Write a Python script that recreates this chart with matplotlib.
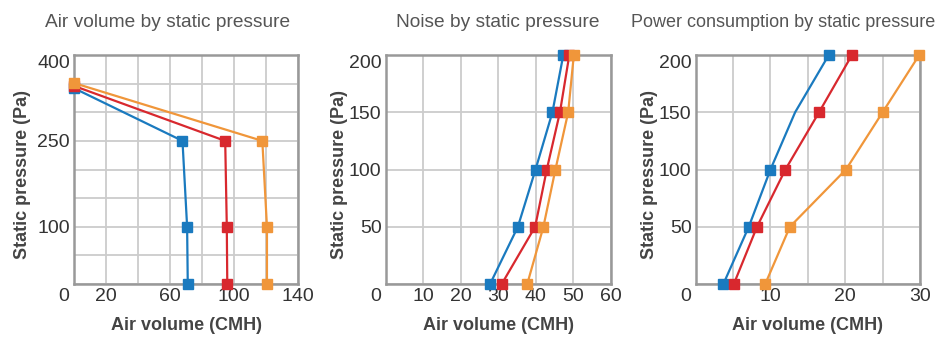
import matplotlib
matplotlib.use("Agg")
import matplotlib.pyplot as plt
from matplotlib.ticker import FixedLocator, FixedFormatter

plt.rcParams['font.family'] = ['Liberation Sans', 'DejaVu Sans']

colors = ['#1a7abf', '#d8282e', '#f0963a']

# Chart 1: Air volume by static pressure
air_pressure_blue = [0, 100, 250, 342]
air_pressure_red = [0, 100, 250, 346]
air_pressure_orange = [0, 100, 250, 351]
air_blue = [71.1, 70.7, 67.8, 0]
air_red = [95.8, 95.5, 94.5, 0]
air_orange = [120.6, 120.6, 117.7, 0]

# Chart 2: Noise by static pressure
pressure = [0, 50, 100, 150, 200]
noise_blue = [27.8, 35.2, 39.9, 44.4, 47.3]
noise_red = [30.9, 39.8, 42.9, 46.4, 48.9]
noise_orange = [37.7, 42.0, 45.2, 48.6, 50.1]

# Chart 3: Power consumption by static pressure
power_blue = [3.7, 7.1, 10.0, 13.3, 17.8]
power_red = [5.1, 8.2, 12.0, 16.5, 20.9]
power_orange = [9.3, 12.6, 20.1, 25.0, 29.9]

titles = ['Air volume by static pressure', 'Noise by static pressure',
          'Power consumption by static pressure']
xlabel = 'Air volume (CMH)'
ylabel = 'Static pressure (Pa)'

W, H = 938, 338
fig = plt.figure(figsize=(W / 100, H / 100), dpi=100)

def px_axes(l, r, t, b):
    return fig.add_axes([l / W, 1 - b / H, (r - l) / W, (b - t) / H])

ax1 = px_axes(74, 298, 55, 284)
ax2 = px_axes(385.7, 611, 55, 284)
ax3 = px_axes(695.7, 920, 55, 284)

line_kw = dict(marker='s', markersize=7, linewidth=1.6, clip_on=False, zorder=3)

# chart 1
for x, y, c in [(air_blue, air_pressure_blue, colors[0]),
                (air_red, air_pressure_red, colors[1]),
                (air_orange, air_pressure_orange, colors[2])]:
    ax1.plot(x, y, color=c, **line_kw)
# chart 2
for x, c in [(noise_blue, colors[0]), (noise_red, colors[1]), (noise_orange, colors[2])]:
    ax2.plot(x, pressure, color=c, **line_kw)
# chart 3
ax3.plot(power_blue, pressure, color=colors[0], markevery=[0, 1, 2, 4], **line_kw)
ax3.plot(power_red, pressure, color=colors[1], **line_kw)
ax3.plot(power_orange, pressure, color=colors[2], **line_kw)

cfg = [
    (ax1, (0, 140), list(range(0, 141, 20)), {20: '20', 60: '60', 100: '100', 140: '140'},
     (0, 400), list(range(0, 401, 50)), {100: '100', 250: '250', 400: '400'}, -0.192),
    (ax2, (0, 60), list(range(0, 61, 10)), {v: str(v) for v in range(10, 61, 10)},
     (0, 200), list(range(0, 201, 50)), {v: str(v) for v in range(50, 201, 50)}, -0.167),
    (ax3, (0, 30), list(range(0, 31, 5)), {10: '10', 20: '20', 30: '30'},
     (0, 200), list(range(0, 201, 50)), {v: str(v) for v in range(50, 201, 50)}, -0.168),
]

title_pos = [167.5, 498, 783.5]
title_size = [13.8, 13.8, 13.0]

for i, (ax, xlim, xt, xlab, ylim, yt, ylab, ylx) in enumerate(cfg):
    ax.set_xlim(*xlim)
    ax.set_ylim(*ylim)
    ax.xaxis.set_major_locator(FixedLocator(xt))
    ax.xaxis.set_major_formatter(FixedFormatter([xlab.get(v, '') for v in xt]))
    ax.yaxis.set_major_locator(FixedLocator(yt))
    ax.yaxis.set_major_formatter(FixedFormatter([ylab.get(v, '') for v in yt]))
    ax.grid(True, color='#cccccc', linewidth=1.3, zorder=0)
    ax.set_axisbelow(True)
    for s in ax.spines.values():
        s.set_color('#999999')
        s.set_linewidth(1.8)
    ax.tick_params(length=0, labelsize=14, labelcolor='#333333', pad=3)
    ax.set_xlabel(xlabel, fontsize=13, fontweight='bold', color='#444444')
    ax.set_ylabel(ylabel, fontsize=13, fontweight='bold', color='#444444')
    ax.xaxis.set_label_coords(0.5, -0.144)
    ax.yaxis.set_label_coords(ylx, 0.48)
    ax.get_yticklabels()[-1].set_verticalalignment('top')
    # origin "0" label, shifted left of the axis
    l = ax.get_position().x0 * W
    fig.text((l - 10.5) / W, 1 - 288 / H, '0', fontsize=14, color='#333333',
             ha='center', va='top')
    fig.text(title_pos[i] / W, 1 - 26.7 / H, titles[i], fontsize=title_size[i],
             color='#555555', ha='center', va='baseline')

fig.savefig('out.png', dpi=100)
